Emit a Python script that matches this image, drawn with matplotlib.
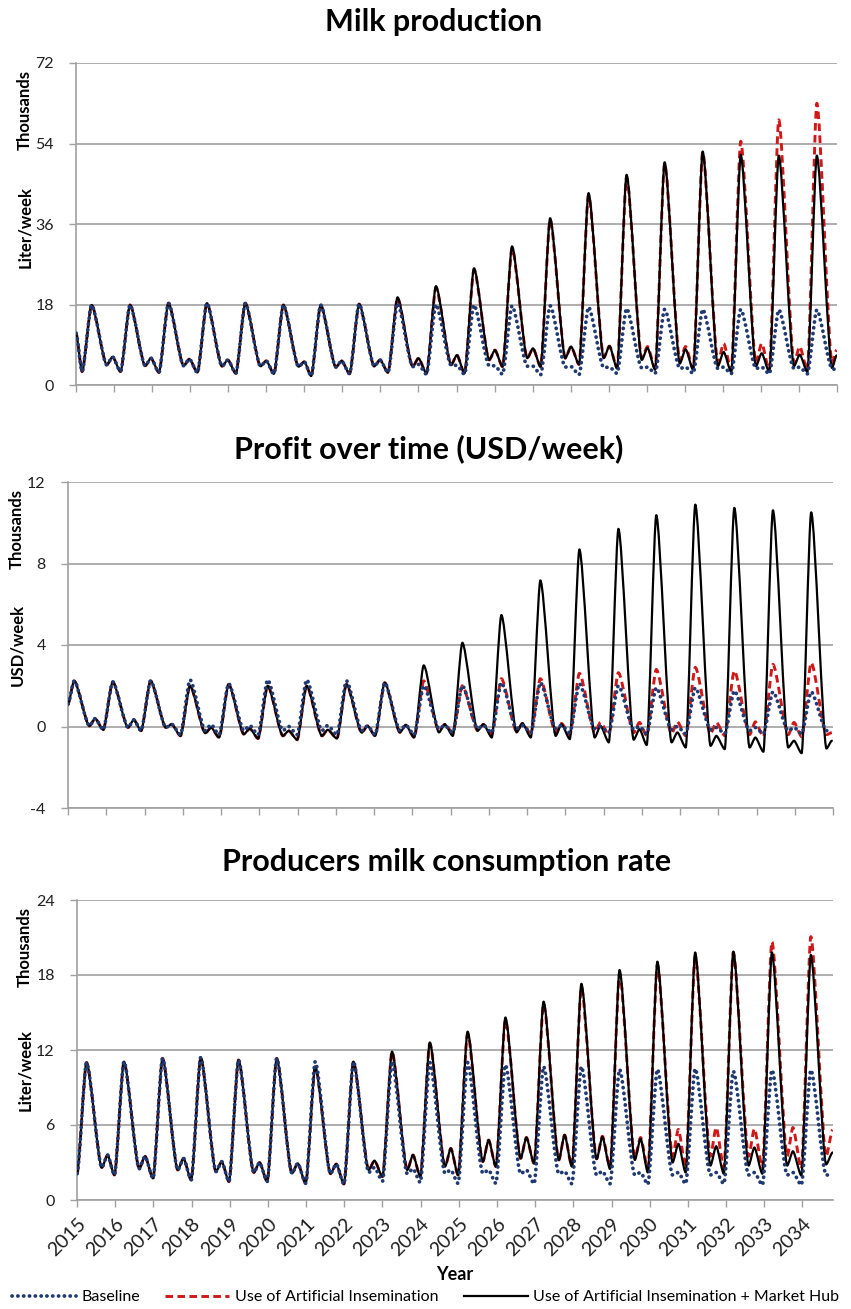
import matplotlib
matplotlib.use("Agg")
import matplotlib.pyplot as plt
from matplotlib.path import Path
from matplotlib.patches import PathPatch
from matplotlib.lines import Line2D

plt.rcParams['font.family'] = ['Lato', 'DejaVu Sans']

# ---------------- data (thousands per week) ----------------
years = list(range(2015, 2035))

# Milk production (thousand liter/week)
milk_peak_time = [2015.41, 2016.42, 2017.43, 2018.44, 2019.45, 2020.45, 2021.43, 2022.44, 2023.45, 2024.46,
                  2025.46, 2026.46, 2027.46, 2028.47, 2029.47, 2030.47, 2031.47, 2032.47, 2033.47, 2034.47]
milk_base_peak = [17.9, 17.9, 18.3, 18.3, 18.3, 17.9, 17.9, 18.1, 18.3, 18.0, 17.9, 17.7, 17.7, 17.4, 17.1, 16.9, 16.9, 16.9, 16.8, 16.8]
milk_base_fall = [4.5, 4.3, 4.3, 4.2, 4.2, 4.1, 4.0, 4.2, 4.1, 4.4, 4.3, 4.2, 4.0, 3.9, 3.8, 3.7, 3.7, 3.7, 3.7, 3.7]
milk_base_bump = [6.3, 6.0, 5.8, 5.6, 5.4, 5.2, 5.4, 5.6, 4.6, 4.4, 4.3, 4.2, 4.1, 4.0, 4.0, 4.0, 4.0, 4.0, 4.0, 4.0]
milk_base_trough = [3.0, 3.0, 2.8, 2.8, 2.6, 2.5, 2.0, 2.5, 2.8, 2.4, 2.4, 2.4, 2.3, 2.3, 2.6, 2.6, 2.6, 2.5, 2.5, 2.5]
milk_ai_peak = [17.9, 17.9, 18.3, 18.3, 18.3, 17.9, 17.9, 18.1, 19.4, 21.8, 25.8, 30.6, 37.0, 42.5, 46.5, 49.5, 52.0, 54.5, 59.3, 63.0]
milk_ai_fall = [4.5, 4.3, 4.3, 4.2, 4.2, 4.1, 4.0, 4.2, 4.1, 4.5, 5.6, 6.0, 6.0, 6.2, 6.0, 5.4, 5.0, 5.0, 5.0, 5.0]
milk_ai_bump = [6.3, 6.0, 5.8, 5.6, 5.4, 5.2, 5.4, 5.6, 6.0, 6.7, 7.8, 8.2, 8.6, 8.7, 8.6, 8.6, 9.3, 9.3, 8.6, 8.2]
milk_ai_trough = [3.0, 3.0, 2.8, 2.8, 2.6, 2.5, 2.0, 2.5, 2.8, 2.6, 2.6, 4.1, 4.1, 4.6, 3.9, 3.7, 3.6, 3.4, 3.3, 3.3]
milk_hub_peak = [17.9, 17.9, 18.3, 18.3, 18.3, 17.9, 17.9, 18.1, 19.6, 22.1, 26.1, 31.0, 37.3, 42.9, 47.0, 49.8, 52.2, 51.5, 51.3, 51.3]
milk_hub_fall = [4.5, 4.3, 4.3, 4.2, 4.2, 4.1, 4.0, 4.2, 4.1, 4.5, 5.6, 6.0, 6.0, 6.0, 5.6, 4.8, 4.2, 4.2, 4.2, 3.8]
milk_hub_bump = [6.3, 6.0, 5.8, 5.6, 5.4, 5.2, 5.4, 5.6, 6.0, 6.7, 7.8, 8.2, 8.6, 8.7, 8.3, 8.0, 7.4, 7.1, 6.8, 6.6]
milk_hub_trough = [3.0, 3.0, 2.8, 2.8, 2.6, 2.5, 2.0, 2.5, 2.8, 2.6, 2.6, 4.1, 4.1, 4.6, 3.7, 3.4, 3.4, 2.9, 2.9, 2.9]
milk_start = [11.6, 11.6, 11.6]   # baseline, AI, AI + hub
milk_end = [3.3, 7.8, 6.6]

# Profit (thousand USD/week)
profit_peak_time = [2015.16, 2016.17, 2017.16, 2018.19, 2019.20, 2020.22, 2021.24, 2022.28, 2023.28, 2024.30,
                    2025.31, 2026.33, 2027.35, 2028.37, 2029.39, 2030.38, 2031.40, 2032.42, 2033.43, 2034.43]
profit_base_peak = [2.24, 2.19, 2.24, 2.29, 2.1, 2.29, 2.29, 2.24, 2.15, 2.0, 2.0, 2.15, 2.15, 2.1, 2.0, 1.9, 1.9, 1.75, 1.7, 1.7]
profit_base_fall = [0.03, -0.05, -0.05, -0.2, -0.2, -0.2, -0.2, -0.2, -0.2, -0.1, -0.1, -0.1, -0.1, -0.1, -0.15, -0.15, -0.15, -0.2, -0.2, -0.2]
profit_base_bump = [0.39, 0.33, 0.11, 0.1, 0.05, 0.0, 0.05, 0.03, 0.07, 0.05, 0.05, 0.05, 0.05, 0.0, 0.0, 0.0, -0.05, -0.05, -0.05, -0.1]
profit_base_trough = [1.1, -0.16, -0.21, -0.4, -0.4, -0.4, -0.4, -0.4, -0.4, -0.4, -0.3, -0.3, -0.3, -0.3, -0.3, -0.35, -0.35, -0.35, -0.35, -0.35]
profit_ai_peak = [2.24, 2.19, 2.24, 2.0, 2.07, 2.0, 2.0, 2.07, 2.15, 2.24, 2.0, 2.35, 2.35, 2.61, 2.64, 2.8, 2.9, 2.73, 3.05, 3.13]
profit_ai_fall = [0.03, -0.05, -0.05, -0.33, -0.38, -0.46, -0.46, -0.3, -0.29, -0.2, -0.2, -0.25, -0.3, -0.3, -0.3, -0.35, -0.35, -0.4, -0.4, -0.4]
profit_ai_bump = [0.39, 0.33, 0.11, -0.05, -0.1, -0.21, -0.16, 0.03, 0.07, 0.1, 0.1, 0.15, 0.15, 0.2, 0.2, 0.23, 0.2, 0.23, 0.2, 0.1]
profit_ai_trough = [1.1, -0.16, -0.21, -0.46, -0.54, -0.59, -0.65, -0.59, -0.46, -0.54, -0.3, -0.35, -0.35, -0.4, -0.4, -0.45, -0.45, -0.45, -0.5, -0.5]
profit_hub_peak = [2.24, 2.19, 2.24, 2.0, 2.07, 2.0, 2.0, 2.07, 2.15, 3.0, 4.11, 5.47, 7.17, 8.69, 9.7, 10.37, 10.89, 10.73, 10.61, 10.51]
profit_hub_fall = [0.03, -0.05, -0.05, -0.33, -0.38, -0.46, -0.46, -0.3, -0.29, -0.29, -0.21, -0.29, -0.46, -0.54, -0.65, -0.78, -0.95, -1.03, -1.03, -1.08]
profit_hub_bump = [0.39, 0.33, 0.11, -0.05, -0.1, -0.21, -0.16, 0.03, 0.07, 0.11, 0.11, 0.16, 0.11, 0.03, -0.13, -0.29, -0.46, -0.54, -0.7, -0.7]
profit_hub_trough = [1.1, -0.16, -0.21, -0.46, -0.54, -0.59, -0.65, -0.59, -0.46, -0.54, -0.46, -0.54, -0.54, -0.62, -0.78, -0.91, -1.03, -1.11, -1.24, -1.31]
profit_start = [1.1, 1.1, 1.1]
profit_end = [-0.3, -0.3, -0.7]

# Producers milk consumption rate (thousand liter/week)
cons_peak_time = [2015.25, 2016.23, 2017.24, 2018.24, 2019.23, 2020.23, 2021.24, 2022.24, 2023.25, 2024.24,
                  2025.23, 2026.22, 2027.22, 2028.21, 2029.21, 2030.20, 2031.19, 2032.19, 2033.20, 2034.22]
cons_base_peak = [11.0, 11.07, 11.33, 11.4, 11.2, 11.33, 11.07, 11.07, 11.07, 11.0, 11.0, 10.8, 10.67, 10.67, 10.45, 10.45, 10.5, 10.3, 10.4, 10.4]
cons_base_fall = [2.6, 2.5, 2.4, 2.27, 2.2, 2.13, 2.1, 2.2, 2.1, 2.13, 2.13, 2.1, 2.1, 2.0, 2.0, 2.0, 2.0, 2.0, 2.0, 2.0]
cons_base_bump = [3.6, 3.5, 3.33, 3.07, 3.0, 2.93, 2.88, 2.6, 2.5, 2.4, 2.4, 2.4, 2.3, 2.3, 2.2, 2.2, 2.2, 2.2, 2.2, 2.2]
cons_base_trough = [2.1, 2.0, 1.73, 1.6, 1.47, 1.47, 1.33, 1.28, 1.5, 1.4, 1.33, 1.33, 1.3, 1.3, 1.3, 1.25, 1.3, 1.3, 1.2, 1.2]
cons_ai_peak = [11.0, 11.07, 11.33, 11.4, 11.2, 11.33, 10.67, 11.07, 11.87, 12.5, 13.3, 14.4, 15.7, 17.0, 18.1, 18.8, 19.5, 19.8, 20.67, 21.07]
cons_ai_fall = [2.6, 2.5, 2.4, 2.27, 2.2, 2.13, 2.1, 2.4, 2.4, 2.67, 3.07, 3.33, 3.2, 3.3, 3.4, 3.5, 3.5, 3.5, 3.5, 3.5]
cons_ai_bump = [3.6, 3.5, 3.33, 3.07, 3.0, 2.93, 2.88, 3.15, 3.6, 4.13, 4.8, 5.0, 5.2, 5.1, 5.0, 5.65, 5.8, 5.7, 5.8, 5.65]
cons_ai_trough = [2.1, 2.0, 1.73, 1.6, 1.47, 1.47, 1.33, 1.28, 1.87, 1.87, 2.0, 2.67, 2.93, 2.7, 2.6, 2.5, 2.6, 2.6, 2.6, 2.5]
cons_hub_peak = [11.0, 11.07, 11.33, 11.4, 11.2, 11.33, 10.67, 11.07, 11.87, 12.6, 13.47, 14.6, 15.87, 17.3, 18.4, 19.07, 19.8, 19.87, 19.8, 19.6]
cons_hub_fall = [2.6, 2.5, 2.4, 2.27, 2.2, 2.13, 2.1, 2.4, 2.4, 2.67, 3.07, 3.33, 3.2, 3.27, 3.2, 3.0, 2.75, 2.75, 2.75, 2.85]
cons_hub_bump = [3.6, 3.5, 3.33, 3.07, 3.0, 2.93, 2.88, 3.15, 3.6, 4.13, 4.8, 5.0, 5.2, 5.05, 4.9, 4.5, 4.3, 4.2, 3.9, 3.8]
cons_hub_trough = [2.1, 2.0, 1.73, 1.6, 1.47, 1.47, 1.33, 1.28, 1.87, 1.87, 2.0, 2.67, 2.93, 2.67, 2.48, 2.2, 2.2, 2.1, 2.1, 1.96]
cons_start = [2.1, 2.1, 2.1]
cons_end = [2.0, 5.6, 3.8]

labels = ["Baseline", "Use of Artificial Insemination", "Use of Artificial Insemination + Market Hub"]


def knots(peak_time, trough, peak, fall, bump, start, end, t0, t1):
    # yearly cycle: trough before the peak, peak, drop, small second bump
    t, v = [t0], [start]
    for k in range(len(peak_time)):
        p = peak_time[k]
        for tt, val in ((p - 0.25, trough[k]), (p, peak[k]), (p + 0.40, fall[k]), (p + 0.55, bump[k])):
            if t0 + 0.03 < tt < t1 - 0.03:
                t.append(tt)
                v.append(val)
    t.append(t1)
    v.append(end)
    return t, v


def smooth_path(t, v, f=0.24):
    # bezier through the knots, flat tangent at each turning point (like a smoothed Excel line)
    verts = [(t[0], v[0])]
    codes = [Path.MOVETO]
    for i in range(len(t) - 1):
        h = (t[i + 1] - t[i]) * f
        verts += [(t[i] + h, v[i]), (t[i + 1] - h, v[i + 1]), (t[i + 1], v[i + 1])]
        codes += [Path.CURVE4] * 3
    return Path(verts, codes)


grid_c = "#A0A0A0"
fig = plt.figure(figsize=(8.51, 13.09), dpi=100)
W, H = 851.0, 1309.0

panels = [
    dict(title="Milk production", ylab="Liter/week", box=(76, 63, 837, 385), tx=434, ty=22,
         lim=(0, 72), ticks=[0, 18, 36, 54, 72], xend=2035.0, tend=2034.99,
         th=110, yl=227, lx=25, pt=milk_peak_time, start=milk_start, end=milk_end,
         series=[(milk_base_trough, milk_base_peak, milk_base_fall, milk_base_bump),
                 (milk_ai_trough, milk_ai_peak, milk_ai_fall, milk_ai_bump),
                 (milk_hub_trough, milk_hub_peak, milk_hub_fall, milk_hub_bump)]),
    dict(title="Profit over time (USD/week)", ylab="USD/week", box=(68, 482, 833, 808), tx=429, ty=449,
         lim=(-4, 12), ticks=[-4, 0, 4, 8, 12], xend=2035.0, tend=2034.97,
         th=529, yl=645, lx=17, pt=profit_peak_time, start=profit_start, end=profit_end,
         series=[(profit_base_trough, profit_base_peak, profit_base_fall, profit_base_bump),
                 (profit_ai_trough, profit_ai_peak, profit_ai_fall, profit_ai_bump),
                 (profit_hub_trough, profit_hub_peak, profit_hub_fall, profit_hub_bump)]),
    dict(title="Producers milk consumption rate", ylab="Liter/week", box=(77, 900, 833, 1200), tx=447, ty=862,
         lim=(0, 24), ticks=[0, 6, 12, 18, 24], xend=2034.8, tend=2034.79,
         th=947, yl=1070, lx=25, pt=cons_peak_time, start=cons_start, end=cons_end,
         series=[(cons_base_trough, cons_base_peak, cons_base_fall, cons_base_bump),
                 (cons_ai_trough, cons_ai_peak, cons_ai_fall, cons_ai_bump),
                 (cons_hub_trough, cons_hub_peak, cons_hub_fall, cons_hub_bump)]),
]

styles = [
    dict(color="#1F3A73", lw=2.7, ls=(0, (0.05, 1.5)), cap="round", z=4),
    dict(color="#D01818", lw=2.1, ls=(0, (2.6, 1.5)), cap="butt", z=2),
    dict(color="black", lw=1.6, ls="-", cap="round", z=3),
]

for i, pn in enumerate(panels):
    x0, y0, x1, y1 = pn["box"]
    ax = fig.add_axes([x0 / W, 1 - y1 / H, (x1 - x0) / W, (y1 - y0) / H])
    for j, (tr, pk, fa, bu) in enumerate(pn["series"]):
        t, v = knots(pn["pt"], tr, pk, fa, bu, pn["start"][j], pn["end"][j], 2015.0, pn["tend"])
        st = styles[j]
        patch = PathPatch(smooth_path(t, v), fill=False, edgecolor=st["color"], lw=st["lw"],
                          linestyle=st["ls"], capstyle=st["cap"], joinstyle="round", zorder=st["z"])
        ax.add_patch(patch)
    ax.set_xlim(2015.0, pn["xend"])
    ax.set_ylim(*pn["lim"])
    ax.set_yticks(pn["ticks"])
    ax.set_yticklabels([str(v) for v in pn["ticks"]], fontsize=11.5, color="#202020")
    xt = [y for y in range(2015, 2036) if y <= pn["xend"]]
    ax.set_xticks(xt)
    if i == 2:
        ax.set_xticklabels([str(y) for y in years], rotation=45, ha="right",
                           rotation_mode="anchor", fontsize=14, color="#202020")
        ax.set_xlabel("Year", fontsize=13, fontweight="bold", labelpad=5)
    else:
        ax.set_xticklabels([])
    ax.yaxis.grid(True, color=grid_c, lw=1.2)
    ax.set_axisbelow(True)
    for s in ("top", "right"):
        ax.spines[s].set_visible(False)
    for s in ("left", "bottom"):
        ax.spines[s].set_color(grid_c)
        ax.spines[s].set_linewidth(1.2)
    ax.tick_params(axis="both", direction="out", length=5, width=1.0, color=grid_c)
    ax.tick_params(axis="y", pad=11)
    ax.tick_params(axis="x", pad=6)
    fig.text(pn["tx"] / W, 1 - pn["ty"] / H, pn["title"], ha="center", va="center",
             fontsize=22, fontweight="bold")
    fig.text(pn["lx"] / W, 1 - pn["th"] / H, "Thousands", rotation=90, ha="center", va="center",
             fontsize=12, fontweight="bold")
    fig.text(pn["lx"] / W, 1 - pn["yl"] / H, pn["ylab"], rotation=90, ha="center", va="center",
             fontsize=12, fontweight="bold")

handles = [Line2D([], [], color=st["color"], lw=st["lw"], linestyle=st["ls"], dash_capstyle=st["cap"])
           for st in styles]
fig.legend(handles=handles, labels=labels, loc="center", bbox_to_anchor=(0.5, 1 - 1297 / H),
           ncol=3, frameon=False, fontsize=11.5, handlelength=4.0, columnspacing=1.6, handletextpad=0.35)

fig.savefig("out.png", dpi=100)
